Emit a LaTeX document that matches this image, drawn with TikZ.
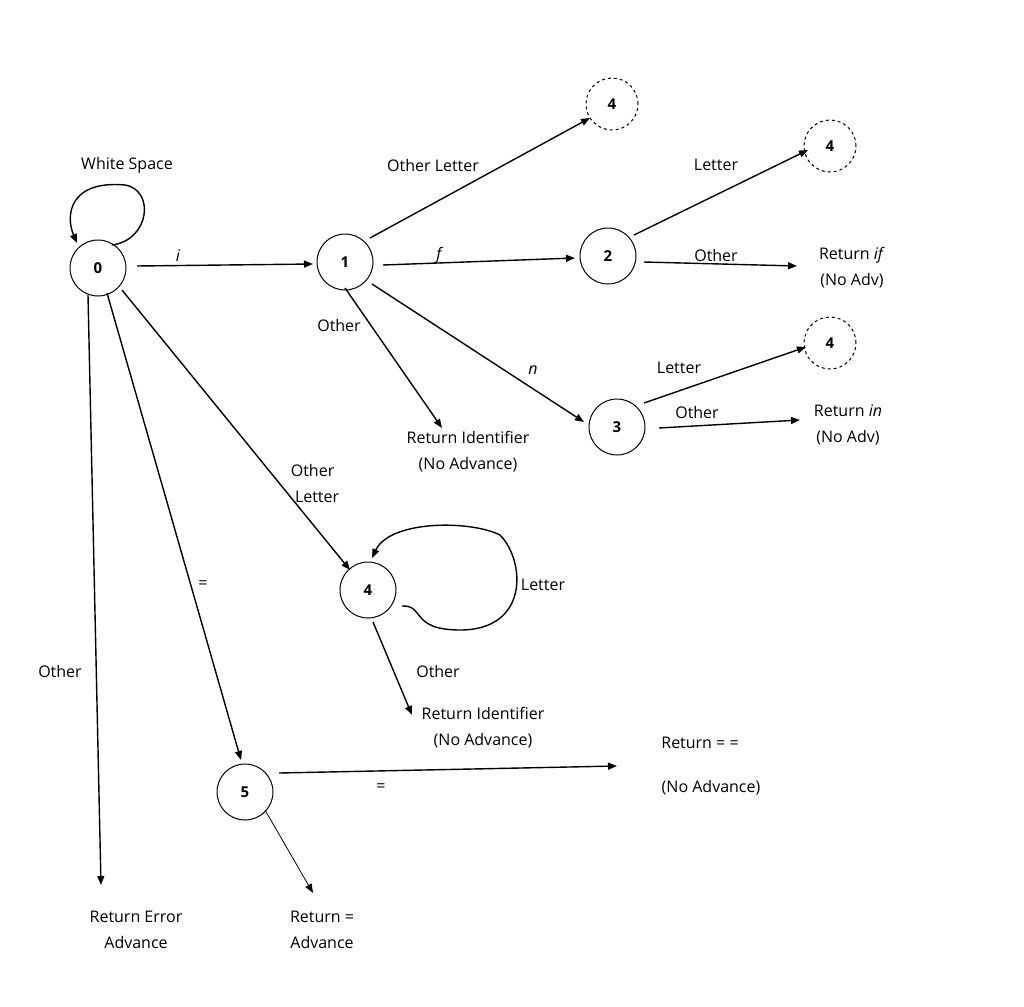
\documentclass[tikz,border=0pt]{standalone}
\usepackage{fontspec}
\setmainfont{Open Sans}
\usetikzlibrary{arrows.meta}
\begin{document}
\begin{tikzpicture}[x=1pt,y=-1pt,
 st/.style={circle,draw,line width=1pt,minimum size=56pt,inner sep=0pt,font=\fontsize{15}{17}\selectfont\bfseries},
 ds/.style={st,dashed,minimum size=52pt},
 tx/.style={font=\fontsize{16}{26}\selectfont,align=center,inner sep=1pt},
 ar/.style={line width=1.4pt,-{Triangle[length=9pt,width=7pt]}}]
\useasboundingbox (0,0) rectangle (1024,1006);
\node[st] (s0) at (98,268) {0};
\node[st] (s1) at (345,262) {1};
\node[st] (s2) at (608,256) {2};
\node[st] (s3) at (617,427) {3};
\node[st] (s4) at (368,590) {4};
\node[st] (s5) at (245,792) {5};
\node[ds] (d1) at (612,104) {4};
\node[ds] (d2) at (830,146) {4};
\node[ds] (d3) at (830,343) {4};
\node[tx] (ws) at (127,165) {White Space};
\node[tx] (ri1) at (468,452) {Return Identifier\\(No Advance)};
\node[tx] (rif) at (852,268) {Return \textit{if}\\(No Adv)};
\node[tx] (rin) at (848,425) {Return \textit{in}\\(No Adv)};
\node[tx] (ri2) at (483,728) {Return Identifier\\(No Advance)};
\node[tx] (req2) at (700,743) {Return = =};
\node[tx] (na) at (711,788) {(No Advance)};
\node[tx] (req) at (322,930) {Return =\\Advance};
\node[tx] (rerr) at (136,930) {Return Error\\Advance};
\coordinate (e01a) at (137,266); \coordinate (e01b) at (313,264);
\draw[ar] (e01a) -- (e01b); \node[tx] at (178,256) {\textit{i}};
\draw[ar] (112,245) .. controls (150,240) and (155,190) .. (125,185) .. controls (70,180) and (65,215) .. (77,243);
\coordinate (a) at (370,238); \coordinate (b) at (590,118);
\draw[ar] (a) -- (b);
\node[tx] at (433,165) {Other Letter};
\coordinate (a) at (383,265); \coordinate (b) at (575,258);
\draw[ar] (a) -- (b); \node[tx] at (440,255) {\textit{f}};
\coordinate (a) at (345,288); \coordinate (b) at (442,428);
\draw[ar] (a) -- (b); \node[tx] at (339,325) {Other};
\coordinate (a) at (372,284); \coordinate (b) at (584,422);
\draw[ar] (a) -- (b); \node[tx] at (533,370) {\textit{n}};
\coordinate (a) at (634,235); \coordinate (b) at (808,150);
\draw[ar] (a) -- (b); \node[tx] at (716,165) {Letter};
\coordinate (a) at (644,262); \coordinate (b) at (797,266);
\draw[ar] (a) -- (b); \node[tx] at (716,255) {Other};
\coordinate (a) at (644,403); \coordinate (b) at (806,347);
\draw[ar] (a) -- (b); \node[tx] at (679,368) {Letter};
\coordinate (a) at (659,428); \coordinate (b) at (800,420);
\draw[ar] (a) -- (b); \node[tx] at (697,412) {Other};
\coordinate (a) at (122,290); \coordinate (b) at (350,570);
\draw[ar] (a) -- (b); \node[tx,align=left] at (315,483) {Other\\\ Letter};
\draw[ar] (402,606) .. controls (425,605) and (410,630) .. (460,630) .. controls (530,630) and (525,560) .. (500,535) .. controls (470,520) and (390,520) .. (372,558);
\node[tx] at (543,585) {Letter};
\coordinate (a) at (373,622); \coordinate (b) at (412,715);
\draw[ar] (a) -- (b); \node[tx] at (438,671) {Other};
\coordinate (a) at (107,293); \coordinate (b) at (241,760);
\draw[ar] (a) -- (b); \node[tx] at (203,585) {=};
\coordinate (a) at (279,773); \coordinate (b) at (617,766);
\draw[ar] (a) -- (b); \node[tx] at (381,788) {=};
\coordinate (a) at (265,810); \coordinate (b) at (313,893);
\draw[line width=0.8pt,-{Triangle[length=9pt,width=7pt]}] (a) -- (b);
\coordinate (a) at (88,295); \coordinate (b) at (101,885);
\draw[ar] (a) -- (b); \node[tx] at (60,671) {Other};
\end{tikzpicture}
\end{document}
